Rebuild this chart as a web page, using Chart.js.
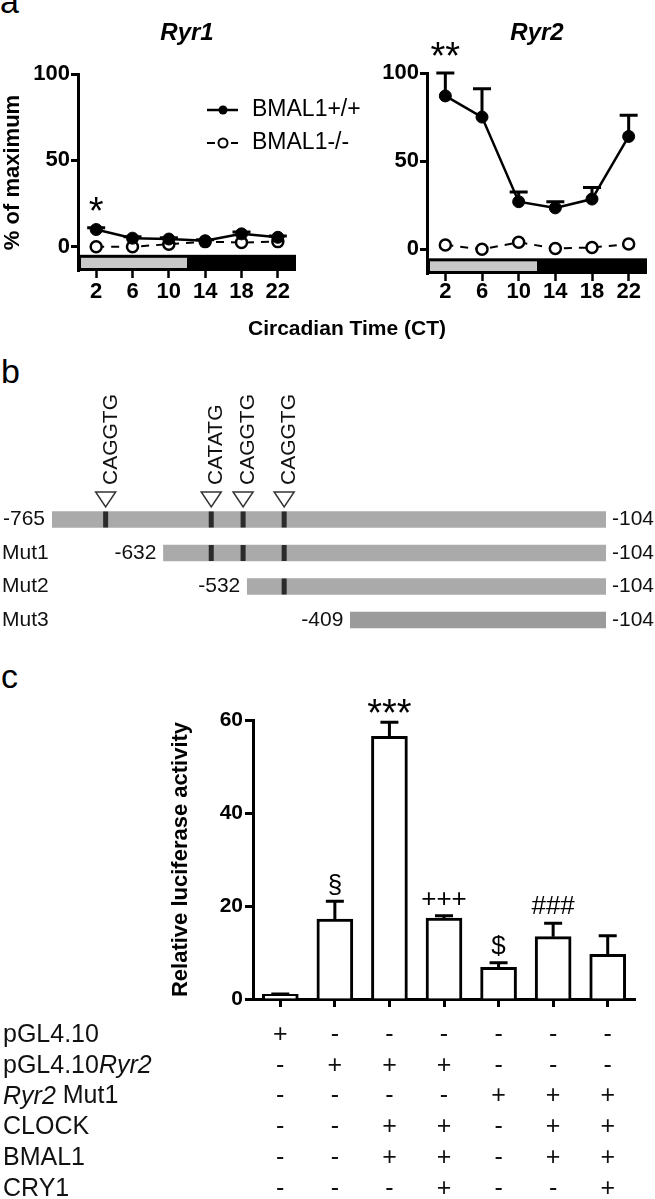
<!DOCTYPE html>
<html>
<head>
<meta charset="utf-8">
<script src="https://cdn.jsdelivr.net/npm/chart.js@4.4.0/dist/chart.umd.min.js"></script>
<style>
body{margin:0;background:#fff;}
#fig{position:relative;width:655px;height:1199px;overflow:hidden;font-family:"Liberation Sans",Arial,sans-serif;}
canvas{position:absolute;}
.lbl{position:absolute;font-size:34px;line-height:34px;color:#000;}
</style>
</head>
<body>
<div id="fig">
  <div class="lbl" style="left:0;top:-16px">a</div>
  <div class="lbl" style="left:1px;top:354px">b</div>
  <div class="lbl" style="left:1px;top:659px">c</div>
  <canvas id="ryr1" width="460" height="345" style="left:0;top:0"></canvas>
  <canvas id="ryr2" width="325" height="345" style="left:330px;top:0"></canvas>
  <canvas id="promoter" width="655" height="260" style="left:0;top:380px"></canvas>
  <canvas id="luc" width="655" height="519" style="left:0;top:680px"></canvas>
</div>
<script>
// panel a - circadian expression
const ct = [2, 6, 10, 14, 18, 22];
const pctTicks = [0, 50, 100];
const ryr1Wt = [10, 5, 4.5, 3.5, 7.5, 5.5];
const ryr1WtSem = [1, 0.8, 0.8, 0.6, 1, 0.8];
const ryr1Ko = [0, 0, 1.5, 3, 2.5, 3];
const ryr1Stars = ['*', '', '', '', '', ''];
const ryr2Wt = [87, 75, 27, 23.5, 28.5, 64];
const ryr2WtSem = [13, 16, 5.5, 3.5, 6.5, 12];
const ryr2Ko = [2.5, 0, 4, 0.5, 1, 3];
const ryr2Stars = ['**', '', '', '', '', ''];

// panel b - promoter constructs
const constructs = ['', 'Mut1', 'Mut2', 'Mut3'];
const constructStart = [-765, -632, -532, -409];
const constructEnd = [-104, -104, -104, -104];
const eboxPos = [-701, -575, -537, -488];
const eboxSeq = ['CAGGTG', 'CATATG', 'CAGGTG', 'CAGGTG'];

// panel c - luciferase
const lucGroups = ['1', '2', '3', '4', '5', '6', '7'];
const lucMean = [1, 17.2, 56.5, 17.4, 6.8, 13.4, 9.6];
const lucSem = [0.1, 3.8, 3, 0.5, 1, 2.9, 4];
const lucMarks = ['', '§', '***', '+++', '$', '###', ''];
const lucTicks = [0, 20, 40, 60];
const rowNames = [
  [['pGL4.10', false]],
  [['pGL4.10', false], ['Ryr2', true]],
  [['Ryr2', true], [' Mut1', false]],
  [['CLOCK', false]],
  [['BMAL1', false]],
  [['CRY1', false]]
];
const rowSigns = [
  ['+', '-', '-', '-', '-', '-', '-'],
  ['-', '+', '+', '+', '-', '-', '-'],
  ['-', '-', '-', '-', '+', '+', '+'],
  ['-', '-', '+', '+', '-', '+', '+'],
  ['-', '-', '+', '+', '-', '+', '+'],
  ['-', '-', '-', '+', '-', '-', '+']
];

const fam = '"Liberation Sans", Arial, sans-serif';
Chart.defaults.font.family = fam;
Chart.defaults.color = '#000';

function pts(ys) { return ct.map((x, i) => ({x: x, y: ys[i]})); }

// upward error bars
const upErr = {
  id: 'upErr',
  beforeDatasetsDraw(chart, args, o) {
    const {ctx, scales: {y}} = chart;
    const meta = chart.getDatasetMeta(0);
    ctx.save();
    ctx.strokeStyle = '#000';
    ctx.lineWidth = o.width;
    meta.data.forEach((p, i) => {
      const t = y.getPixelForValue(o.vals[i] + o.sem[i]);
      ctx.beginPath();
      ctx.moveTo(p.x, p.y);
      ctx.lineTo(p.x, t);
      ctx.moveTo(p.x - o.cap / 2, t);
      ctx.lineTo(p.x + o.cap / 2, t);
      ctx.stroke();
    });
    ctx.restore();
  }
};

// significance marks above error bars
const marks = {
  id: 'marks',
  afterDatasetsDraw(chart, args, o) {
    const {ctx, scales: {y}} = chart;
    const meta = chart.getDatasetMeta(0);
    ctx.save();
    ctx.fillStyle = '#000';
    ctx.textAlign = 'center';
    ctx.textBaseline = 'middle';
    o.text.forEach((t, i) => {
      if (!t) return;
      let cy = y.getPixelForValue(o.vals[i] + o.sem[i]) - o.gap;
      const star = t[0] === '*';
      ctx.font = (star ? o.starSize : o.size) + 'px ' + fam;
      if (star) cy += 0.23 * o.starSize;
      ctx.fillText(t, meta.data[i].x, cy);
    });
    ctx.restore();
  }
};

// light / dark bar under the circadian plots
const ldBar = {
  id: 'ldBar',
  beforeDatasetsDraw(chart, args, o) {
    const {ctx, scales: {x, y}, chartArea} = chart;
    const top = y.getPixelForValue(0) + o.gap, bot = chartArea.bottom;
    const x0 = x.getPixelForValue(0), x12 = x.getPixelForValue(12), x24 = x.getPixelForValue(24);
    ctx.save();
    ctx.fillStyle = '#000';
    ctx.fillRect(x0, top, x24 - x0, bot - top);
    ctx.fillStyle = '#c8c8c8';
    ctx.fillRect(x0 + 3, top + 3, x12 - x0 - 3, bot - top - 6);
    ctx.restore();
  }
};

const geneTitle = {
  id: 'geneTitle',
  afterDraw(chart, args, o) {
    const {ctx, chartArea} = chart;
    ctx.save();
    ctx.fillStyle = '#000';
    ctx.font = 'italic bold 24px ' + fam;
    ctx.textAlign = 'center';
    ctx.textBaseline = 'middle';
    ctx.fillText(o.text, (chartArea.left + chartArea.right) / 2, 33);
    ctx.restore();
  }
};

const circLegend = {
  id: 'circLegend',
  afterDraw(chart) {
    const {ctx} = chart;
    const ds = chart.data.datasets;
    ctx.save();
    ctx.strokeStyle = '#000';
    // solid line + filled dot
    ctx.lineWidth = 2.5;
    ctx.beginPath(); ctx.moveTo(207, 110); ctx.lineTo(238, 110); ctx.stroke();
    ctx.fillStyle = '#000';
    ctx.beginPath(); ctx.arc(223, 110, 4.5, 0, Math.PI * 2); ctx.fill();
    // dashed + open dot
    ctx.lineWidth = 2;
    ctx.beginPath(); ctx.moveTo(207, 143); ctx.lineTo(215, 143); ctx.moveTo(231, 143); ctx.lineTo(238, 143); ctx.stroke();
    ctx.fillStyle = '#fff';
    ctx.beginPath(); ctx.arc(223, 143, 4.5, 0, Math.PI * 2); ctx.fill(); ctx.stroke();
    ctx.fillStyle = '#000';
    ctx.font = '23px ' + fam;
    ctx.textBaseline = 'middle';
    ctx.fillText(ds[0].label, 252, 110);
    ctx.fillText(ds[1].label, 252, 143);
    // shared x title
    ctx.font = 'bold 21px ' + fam;
    ctx.textAlign = 'center';
    ctx.fillText('Circadian Time (CT)', 347, 329);
    ctx.restore();
  }
};

function circDatasets(wt, ko) {
  return [
    {label: 'BMAL1+/+', data: pts(wt), borderColor: '#000', borderWidth: 2.5, pointRadius: 6,
     pointBackgroundColor: '#000', pointBorderColor: '#000', pointBorderWidth: 1},
    {label: 'BMAL1-/-', data: pts(ko), borderColor: '#000', borderWidth: 2, borderDash: [8, 7], pointRadius: 5.5,
     pointBackgroundColor: '#fff', pointBorderColor: '#000', pointBorderWidth: 2.5}
  ];
}

function circOptions(c) {
  return {
    responsive: false, animation: false, devicePixelRatio: 1,
    layout: {padding: {left: 0, top: c.top, right: c.right, bottom: 0}},
    plugins: {
      legend: {display: false}, tooltip: {enabled: false},
      upErr: {vals: c.vals, sem: c.sem, width: 3, cap: 18},
      marks: {vals: c.vals, sem: c.sem, text: c.stars, gap: 23, size: 26, starSize: 38},
      ldBar: {gap: c.ldGap},
      geneTitle: {text: c.title}
    },
    scales: {
      x: {
        type: 'linear', min: 0, max: 24,
        afterBuildTicks: s => { s.ticks = ct.map(v => ({value: v})); },
        afterFit: s => { s.height = c.xh; },
        border: {display: false},
        grid: {drawOnChartArea: false, tickLength: 7, tickWidth: 2.5, tickColor: '#000'},
        ticks: {font: {size: 22, weight: 'bold'}, padding: c.xpad, maxRotation: 0}
      },
      y: {
        min: -14, max: 100,
        afterBuildTicks: s => { s.ticks = pctTicks.map(v => ({value: v})); },
        afterFit: s => { s.width = c.yw; },
        border: {display: true, width: 3, color: '#000'},
        grid: {drawOnChartArea: false, tickLength: 7, tickWidth: 3, tickColor: '#000'},
        ticks: {font: {size: 22, weight: 'bold'}, padding: 1},
        title: {display: c.ytitle, text: '% of maximum', font: {size: 22, weight: 'bold'}, padding: 0}
      }
    }
  };
}

new Chart(document.getElementById('ryr1'), {
  type: 'line',
  data: {datasets: circDatasets(ryr1Wt, ryr1Ko)},
  options: circOptions({top: 74, right: 164, xh: 74, yw: 78, xpad: 1, ldGap: 8, ytitle: true,
    vals: ryr1Wt, sem: ryr1WtSem, stars: ryr1Stars, title: 'Ryr1'}),
  plugins: [ldBar, upErr, marks, geneTitle, circLegend]
});

new Chart(document.getElementById('ryr2'), {
  type: 'line',
  data: {datasets: circDatasets(ryr2Wt, ryr2Ko)},
  options: circOptions({top: 73, right: 5, xh: 71, yw: 97, xpad: -2, ldGap: 9, ytitle: false,
    vals: ryr2Wt, sem: ryr2WtSem, stars: ryr2Stars, title: 'Ryr2'}),
  plugins: [ldBar, upErr, marks, geneTitle]
});

// panel b
const promoterMarks = {
  id: 'promoterMarks',
  afterDatasetsDraw(chart) {
    const {ctx, scales: {x}} = chart;
    const meta = chart.getDatasetMeta(0);
    ctx.save();
    meta.data.forEach((bar, i) => {
      const h = bar.height;
      ctx.fillStyle = '#2b2b2b';
      eboxPos.forEach(p => {
        if (p > constructStart[i]) ctx.fillRect(x.getPixelForValue(p) - 2.5, bar.y - h / 2, 5, h);
      });
      ctx.fillStyle = '#111';
      ctx.font = '21px ' + fam;
      ctx.textBaseline = 'middle';
      ctx.textAlign = 'right';
      ctx.fillText(String(constructStart[i]), x.getPixelForValue(constructStart[i]) - 7, bar.y);
      ctx.textAlign = 'left';
      ctx.fillText(String(constructEnd[i]), x.getPixelForValue(constructEnd[i]) + 6, bar.y);
      if (constructs[i]) ctx.fillText(constructs[i], 2, bar.y);
    });
    const top = meta.data[0].y - meta.data[0].height / 2;
    eboxPos.forEach((p, k) => {
      const px = x.getPixelForValue(p);
      ctx.beginPath();
      ctx.moveTo(px - 10, top - 19.5);
      ctx.lineTo(px + 10, top - 19.5);
      ctx.lineTo(px, top - 4.5);
      ctx.closePath();
      ctx.fillStyle = '#fff';
      ctx.fill();
      ctx.strokeStyle = '#333';
      ctx.lineWidth = 1.5;
      ctx.stroke();
      ctx.save();
      ctx.translate(px + 11, top - 26.5);
      ctx.rotate(-Math.PI / 2);
      ctx.textAlign = 'left';
      ctx.textBaseline = 'alphabetic';
      ctx.fillStyle = '#111';
      ctx.fillText(eboxSeq[k], 0, 0);
      ctx.restore();
    });
    ctx.restore();
  }
};

new Chart(document.getElementById('promoter'), {
  type: 'bar',
  data: {
    labels: constructs,
    datasets: [{
      data: constructStart.map((s, i) => [s, constructEnd[i]]),
      backgroundColor: ['#aaaaaa', '#aaaaaa', '#aaaaaa', '#9b9b9b'],
      borderWidth: 0, barThickness: 16
    }]
  },
  options: {
    indexAxis: 'y', responsive: false, animation: false, devicePixelRatio: 1,
    layout: {padding: {left: 52, right: 49, top: 122.75, bottom: 3.25}},
    plugins: {legend: {display: false}, tooltip: {enabled: false}},
    scales: {
      x: {type: 'linear', min: -765, max: -104, display: false},
      y: {display: false}
    }
  },
  plugins: [promoterMarks]
});

// panel c
const signTable = {
  id: 'signTable',
  afterDraw(chart) {
    const {ctx, scales: {x}} = chart;
    ctx.save();
    ctx.fillStyle = '#111';
    ctx.textBaseline = 'middle';
    rowNames.forEach((segs, r) => {
      const cy = 355 + r * 30.8;
      let px = 3;
      ctx.textAlign = 'left';
      segs.forEach(([txt, it]) => {
        ctx.font = (it ? 'italic ' : '') + '25px ' + fam;
        ctx.fillText(txt, px, cy);
        px += ctx.measureText(txt).width;
      });
      ctx.font = '25px ' + fam;
      ctx.textAlign = 'center';
      rowSigns[r].forEach((s, i) => ctx.fillText(s, x.getPixelForValue(i), cy));
    });
    ctx.restore();
  }
};

new Chart(document.getElementById('luc'), {
  type: 'bar',
  data: {
    labels: lucGroups,
    datasets: [{data: lucMean, backgroundColor: '#fff', borderColor: '#000', borderWidth: 3, barThickness: 36}]
  },
  options: {
    responsive: false, animation: false, devicePixelRatio: 1,
    layout: {padding: {left: 168, right: 20, top: 40, bottom: 0}},
    plugins: {
      legend: {display: false}, tooltip: {enabled: false},
      upErr: {vals: lucMean, sem: lucSem, width: 3, cap: 18},
      marks: {vals: lucMean, sem: lucSem, text: lucMarks, gap: 16, size: 26, starSize: 38}
    },
    scales: {
      x: {
        afterFit: s => { s.height = 200; },
        border: {display: true, width: 3, color: '#000'},
        grid: {offset: false, drawOnChartArea: false, tickLength: 8, tickWidth: 3, tickColor: '#000'},
        ticks: {display: false}
      },
      y: {
        min: 0, max: 60,
        afterBuildTicks: s => { s.ticks = lucTicks.map(v => ({value: v})); },
        afterFit: s => { s.width = 85; },
        border: {display: true, width: 3, color: '#000'},
        grid: {drawOnChartArea: false, tickLength: 8, tickWidth: 3, tickColor: '#000'},
        ticks: {font: {size: 21, weight: 'bold'}, padding: 2},
        title: {display: true, text: 'Relative luciferase activity', font: {size: 22, weight: 'bold'}, padding: 0}
      }
    }
  },
  plugins: [upErr, marks, signTable]
});
</script>
</body>
</html>
